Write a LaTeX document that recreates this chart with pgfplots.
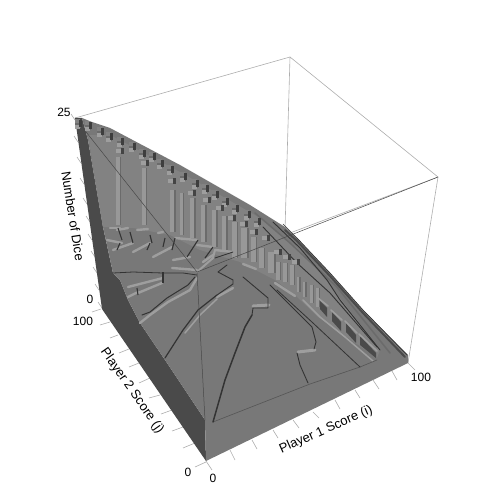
\documentclass[border=0pt]{standalone}
\usepackage{pgfplots}
\pgfplotsset{compat=1.18}
\usepackage{fontspec}
\setmainfont{Liberation Sans}
\definecolor{fl}{gray}{0.47}
\definecolor{wl}{gray}{0.51}
\definecolor{lw}{gray}{0.29}
\definecolor{hi}{gray}{0.62}
\definecolor{md}{gray}{0.42}
\definecolor{dk}{gray}{0.2}
\definecolor{wr}{gray}{0.68}
\pgfdeclareplotmark{tooth}{%
  \fill[md] (-3.2pt,-5pt) rectangle (2.5pt,2pt);
  \fill[hi] (-3pt,-6.5pt) rectangle (1pt,-3.5pt);
  \fill[wl] (-3.2pt,0pt) rectangle (1pt,3pt);
  \fill[dk!80!md] (1pt,-4pt) rectangle (3pt,2pt);
}
\pgfdeclareplotmark{toothb}{%
  \fill[hi] (-3.5pt,-1.5pt) rectangle (1pt,1.5pt);
  \fill[dk!70!md] (1pt,-2pt) rectangle (2.8pt,3pt);
}
\newcommand{\Poly}[2]{\addplot[draw=none,fill=#1,forget plot] coordinates {#2} --cycle;}
\newcommand{\Li}[3]{\addplot[draw=#1,line width=#2,line join=round,line cap=round,forget plot] coordinates {#3};}
\begin{document}
\begin{tikzpicture}
\begin{axis}[width=500pt,height=500pt,scale only axis,hide axis,
  xmin=0,xmax=500,ymin=0,ymax=500,y dir=reverse,clip=false,axis on top=false]
\path (axis cs:0,0) rectangle (axis cs:500,500);
% back frame
\Li{wr}{0.6pt}{(75,118)(290,57)(438,177)(408,363)}
\Li{wr}{0.6pt}{(290,57)(285,230)}
\Li{wr}{0.6pt}{(438,177)(290,233)}
% ticks
\foreach \a/\b/\c/\d in {75/120/71/114,78/142/74/136,81/163/77/157,84/184/80/178,87/204/83/198,90/222/86/216,92/240/88/234,95/257/91/251,97/273/93/267,99/290/95/284,102/308/98/302,
 101/309/92/312,110/322/100/325,118/335/110/338,129/349/119/353,139/363/129/367,150/378/139/383,160/395/149/398,172/410/161/414,183/427/172/431,195/443/183/448,206/462/195/467,
 206/461/212/470,230/450/235/460,252/440/257/449,273/430/278/438,293/420/299/428,313/412/319/418,335/400/340/409,355/390/360/398,373/380/379/389,392/371/397/380,408/363/415/370}{
 \edef\tmp{\noexpand\addplot[draw=wr,line width=0.6pt,forget plot] coordinates {(\a,\b)(\c,\d)};}\tmp
}
% dark left side
\Poly{lw}{(75,118)(102,309)(206,461)(205,420)(163,357)(140,323)(128,300)(120,280)(113,273)(103,227)(88,140)(82,118)}
% surface plus front side
\Poly{fl}{(205,420)(206,461)(408,363)(408,355)(363,310)(330,273)(313,255)(297,238)(285,227)(250,205)(180,165)(110,128)(92,122)(82,118)(88,140)(103,227)(113,273)(120,280)(128,300)(140,323)(163,357)}
% wall
\Poly{wl}{(88,135)(103,227)(133,228)(170,235)(200,250)(240,262)(275,280)(295,295)(318,317)(377,358)(380,350)(330,285)(300,250)(260,218)(180,172)(110,135)}
% column strips
\foreach \x/\t/\bb/\w in {118/157/225/3.5,144/168/225/3.5,172/190/232/4,181/193/235/3,192/198/238/4,203/205/242/4,214/210/247/4.5,224/216/250/4.5,234/222/258/5,244/228/258/6,253/237/262/5,261/248/268/5,271/252/273/6,278/262/280/3.5,285/263/282/3.5,292/265/285/3.5,298/277/292/2.5,304/282/297/2.5,311/285/303/3,317/288/307/3}{
 \edef\tmp{\noexpand\addplot[draw=hi!80!wl,line width=\w pt,forget plot] coordinates {(\x,\t)(\x,\bb)};}\tmp
 \pgfmathsetmacro{\xr}{\x+\w/2+0.8}
 \edef\tmp{\noexpand\addplot[draw=md,line width=1.4pt,forget plot] coordinates {(\xr,\t)(\xr,\bb)};}\tmp
}
% windows
\Poly{lw}{(320,301)(327,308)(327,317)(320,309)}
\Poly{lw}{(332,312)(341,322)(341,331)(332,321)}
\Poly{lw}{(346,323)(356,335)(356,343)(346,332)}
\Poly{lw}{(360,336)(376,353)(376,358)(360,345)}
\Li{hi}{1.6pt}{(318,298)(328,306)}
\Li{hi}{1.6pt}{(331,310)(342,320)}
\Li{hi}{1.6pt}{(345,321)(357,333)}
\Li{hi}{1.6pt}{(359,334)(377,351)}
\Li{hi}{1.5pt}{(303,300)(320,317)(345,337)(373,361)}
% ridges on the right
\Li{md}{1.5pt}{(255,213)(290,243)(337,287)(390,353)}
\Li{dk}{0.9pt}{(263,227)(297,263)(330,293)(377,347)}
\Li{dk}{0.9pt}{(273,222)(300,248)(327,280)(340,300)(380,350)}
\Li{lw}{2pt}{(285,230)(297,241)(313,258)(330,276)(363,313)(405,357)}
\Li{dk}{0.7pt}{(283,224)(297,238)(313,255)(330,273)(363,310)(407,355)}
% teeth
\addplot[only marks,mark=tooth,forget plot] coordinates {(78,122)(88,124)(100,130)(109,135)(120,140)(132,145)(142,152)(152,155)(160,162)(170,168)(183,175)(195,182)(205,187)(215,193)(225,200)(235,207)(247,213)(257,220)};
\addplot[only marks,mark=toothb,forget plot] coordinates {(120,151)(145,163)(172,181)(192,193)(207,200)(220,208)(232,218)(244,224)(254,232)(266,238)(278,252)(287,257)(296,262)};
% front edge of plateau
\Li{md!60!dk}{0.6pt}{(213,422)(310,384)(360,367)(377,360)}
% terraces light
\foreach \a/\b/\c/\d in {110/228/120/228,117/230/128/228,137/230/148/229,158/233/163/232,175/238/197/240,197/245/213/247,215/250/233/252,107/240/122/243,113/250/133/243,133/252/150/243,153/257/172/247,173/260/190/257,172/268/197/270,203/262/213/255,128/287/163/278,128/297/138/292,138/293/162/283,243/264/256/269,275/283/295/296}{
 \edef\tmp{\noexpand\addplot[draw=hi,line width=2.4pt,line cap=round,forget plot] coordinates {(\a,\b)(\c,\d)};}\tmp
}
% terraces dark
\foreach \a/\b/\c/\d in {118/228/122/240,130/232/133/243,150/235/152/243,165/238/163/247,175/238/172/250,198/240/187/257,213/247/205/258,137/288/138/295,163/272/163/283,150/243/147/250,120/243/117/250}{
 \edef\tmp{\noexpand\addplot[draw=dk,line width=1.1pt,forget plot] coordinates {(\a,\b)(\c,\d)};}\tmp
}
\Li{dk}{0.8pt}{(113,273)(133,272)(163,273)(183,273)(197,275)}
% band D
\Li{hi}{2.4pt}{(140,323)(150,315)(168,302)(190,290)(197,278)}
\Li{dk}{1pt}{(142,315)(150,312)(167,298)(188,285)(195,277)}
% band C
\Li{hi}{2.4pt}{(217,297)(233,288)}
\Li{hi}{1.5pt}{(185,333)(200,315)(217,299)}
\Li{dk}{1.2pt}{(165,358)(183,330)(198,310)(217,295)}
\Li{dk}{0.9pt}{(217,295)(233,284)(233,280)(218,272)(227,265)}
% line B
\Li{hi}{3pt}{(253,306)(269,305)}
\Li{dk}{0.9pt}{(243,277)(268,298)(268,308)(253,308)(252,315)}
\Li{dk}{1.5pt}{(252,315)(245,327)(235,353)(225,380)(213,422)}
% line A
\Li{hi}{3pt}{(298,352)(315,350)}
\Li{dk}{0.9pt}{(270,285)(312,327)(316,342)(314,349)}
\Li{dk}{0.9pt}{(297,353)(300,365)(308,383)}
% line R
\Li{dk}{0.8pt}{(277,290)(313,323)(360,367)}
% upper divider
\Li{hi}{2pt}{(197,272)(213,258)(215,250)}
\Li{dk}{0.9pt}{(215,258)(233,252)}
% front frame
\Li{dk!70!fl}{0.5pt}{(75,118)(197,272)(438,177)}
\Li{dk!70!fl}{0.5pt}{(197,272)(205,420)}
% labels
\node[font=\fontsize{12}{14}\selectfont] at (axis cs:64,112) {25};
\node[font=\fontsize{12}{14}\selectfont] at (axis cs:90,299) {0};
\node[font=\fontsize{12}{14}\selectfont] at (axis cs:83,321) {100};
\node[font=\fontsize{12}{14}\selectfont] at (axis cs:188,472) {0};
\node[font=\fontsize{12}{14}\selectfont] at (axis cs:213,478) {0};
\node[font=\fontsize{12}{14}\selectfont] at (axis cs:421,377) {100};
\node[rotate=-81,font=\fontsize{13}{15}\selectfont] at (axis cs:73,216) {Number of Dice};
\node[rotate=-55,font=\fontsize{13}{15}\selectfont] at (axis cs:132,391) {Player 2 Score (j)};
\node[rotate=24,font=\fontsize{13}{15}\selectfont] at (axis cs:326,430) {Player 1 Score (i)};
\end{axis}
\end{tikzpicture}
\end{document}
